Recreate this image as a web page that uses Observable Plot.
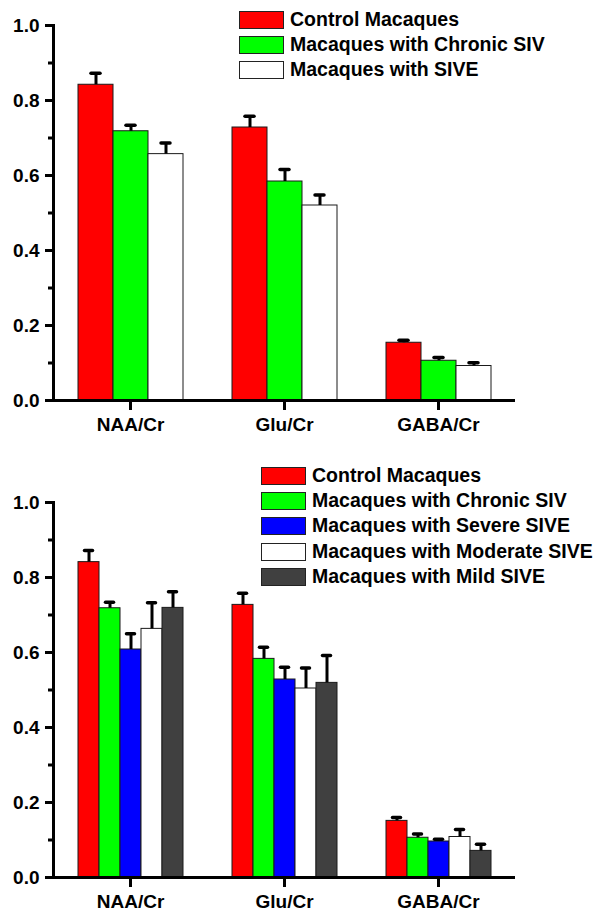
<!DOCTYPE html>
<html>
<head>
<meta charset="utf-8">
<script src="https://cdn.jsdelivr.net/npm/d3@7"></script>
<script src="https://cdn.jsdelivr.net/npm/@observablehq/plot@0.6"></script>
<style>
  html, body { margin: 0; padding: 0; background: #fff; }
  #wrap { position: relative; width: 596px; height: 911px; overflow: hidden; background: #fff; }
  .panel { position: absolute; left: 0; }
  .legend { position: absolute; font-family: 'Liberation Sans', Arial, sans-serif; font-weight: bold; font-size: 19.5px; color: #000; }
  .row { position: absolute; left: 0; height: 17px; white-space: nowrap; }
  .sw { position: absolute; left: 0; top: 0; width: 43px; height: 16px; border: 1px solid #222; }
  .lab { position: absolute; left: 51px; top: -4px; line-height: 24px; }
</style>
</head>
<body>
<div id="wrap"></div>
<script>
// ---- data ----
const categories = ["NAA/Cr", "Glu/Cr", "GABA/Cr"];
const yMajor = [0, 0.2, 0.4, 0.6, 0.8, 1.0];
const yMinor = [0.1, 0.3, 0.5, 0.7, 0.9];

// top panel
const seriesTop = ["Control Macaques", "Macaques with Chronic SIV", "Macaques with SIVE"];
const colorsTop = ["#ff0000", "#00ff00", "#ffffff"];
const topControl = [0.842, 0.728, 0.154];
const topControlErr = [0.031, 0.030, 0.007];
const topChronic = [0.718, 0.584, 0.106];
const topChronicErr = [0.016, 0.032, 0.009];
const topSive = [0.657, 0.520, 0.092];
const topSiveErr = [0.030, 0.028, 0.009];

// bottom panel
const seriesBottom = ["Control Macaques", "Macaques with Chronic SIV", "Macaques with Severe SIVE", "Macaques with Moderate SIVE", "Macaques with Mild SIVE"];
const colorsBottom = ["#ff0000", "#00ff00", "#0000ff", "#ffffff", "#404040"];
const botControl = [0.841, 0.727, 0.151];
const botControlErr = [0.031, 0.031, 0.009];
const botChronic = [0.718, 0.583, 0.106];
const botChronicErr = [0.016, 0.031, 0.010];
const botSevere = [0.608, 0.528, 0.096];
const botSevereErr = [0.042, 0.033, 0.006];
const botModerate = [0.663, 0.504, 0.108];
const botModerateErr = [0.070, 0.055, 0.020];
const botMild = [0.719, 0.519, 0.071];
const botMildErr = [0.043, 0.073, 0.018];

const fmt = d3.format(".1f");
const font = "'Liberation Sans', Arial, sans-serif";

function panel({series, colors, values, errs, height, marginTop, marginBottom, paddingOuter, capInset}) {
  const rows = [];
  series.forEach((s, i) => categories.forEach((c, j) =>
    rows.push({cat: c, series: s, value: values[i][j], err: errs[i][j]})));
  return Plot.plot({
    width: 596, height, marginTop, marginBottom, marginLeft: 53, marginRight: 81,
    style: {fontFamily: font, fontWeight: "bold", fontSize: "19px", color: "#000", background: "transparent", overflow: "visible"},
    fx: {domain: categories, padding: 0},
    x: {domain: series, paddingInner: 0, paddingOuter, axis: null},
    y: {domain: [0, 1]},
    color: {domain: series, range: colors},
    marks: [
      Plot.barY(rows, {fx: "cat", x: "series", y: "value", fill: "series", stroke: "#1a1a1a", strokeWidth: 1}),
      Plot.ruleX(rows, {fx: "cat", x: "series", y1: "value", y2: d => d.value + d.err, strokeWidth: 3, stroke: "#000"}),
      Plot.tickY(rows, {fx: "cat", x: "series", y: d => d.value + d.err, strokeWidth: 3.5, strokeLinecap: "round", stroke: "#000", insetLeft: capInset, insetRight: capInset}),
      Plot.ruleY([0], {strokeWidth: 3, stroke: "#000"}),
      Plot.frame({anchor: "left", facetAnchor: "left", strokeWidth: 3, stroke: "#000"}),
      Plot.axisY({ticks: yMajor, tickFormat: fmt, tickSize: 8, tickPadding: 6, strokeWidth: 3, fontSize: 19, fontWeight: "bold", label: null}),
      Plot.axisY({ticks: yMinor, tickFormat: () => "", tickSize: 5, strokeWidth: 3, label: null}),
      Plot.axisFx({anchor: "bottom", tickSize: 10, tickPadding: 7, strokeWidth: 3, fontSize: 19, fontWeight: "bold", label: null})
    ]
  });
}

function legend(series, colors, left, top) {
  const div = document.createElement("div");
  div.className = "legend";
  div.style.left = left + "px";
  div.style.top = top + "px";
  series.forEach((s, i) => {
    const row = document.createElement("div");
    row.className = "row";
    row.style.top = (i * 25.2) + "px";
    const sw = document.createElement("div");
    sw.className = "sw";
    sw.style.background = colors[i];
    const lab = document.createElement("div");
    lab.className = "lab";
    lab.textContent = s;
    row.appendChild(sw); row.appendChild(lab);
    div.appendChild(row);
  });
  return div;
}

const wrap = document.getElementById("wrap");

const top1 = panel({
  series: seriesTop, colors: colorsTop,
  values: [topControl, topChronic, topSive],
  errs: [topControlErr, topChronicErr, topSiveErr],
  height: 455, marginTop: 25, marginBottom: 55, paddingOuter: 0.66, capInset: 13
});
top1.classList.add("panel"); top1.style.top = "0px";
wrap.appendChild(top1);
wrap.appendChild(legend(seriesTop, colorsTop, 239, 11));

const bot = panel({
  series: seriesBottom, colors: colorsBottom,
  values: [botControl, botChronic, botSevere, botModerate, botMild],
  errs: [botControlErr, botChronicErr, botSevereErr, botModerateErr, botMildErr],
  height: 456, marginTop: 47, marginBottom: 34, paddingOuter: 1.08, capInset: 6.5
});
bot.classList.add("panel"); bot.style.top = "455px";
wrap.appendChild(bot);
wrap.appendChild(legend(seriesBottom, colorsBottom, 261, 467));
</script>
</body>
</html>
